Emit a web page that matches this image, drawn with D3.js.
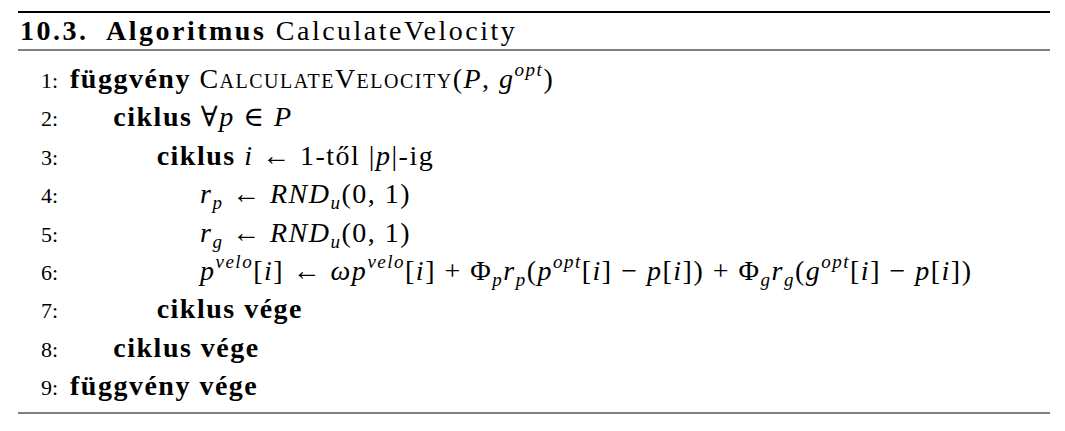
<!DOCTYPE html>
<html><head><meta charset="utf-8">
<script src="https://cdn.jsdelivr.net/npm/d3@7"></script>
<style>body{margin:0;background:#fff}</style>
</head><body>
<svg id="c" width="1065" height="431"></svg>
<script>
// algorithm title and listing
const title = [["10.3.  Algoritmus", "b"], [" CalculateVelocity", "r"]];
const indents = [0, 1, 2, 3, 3, 3, 2, 1, 0];
const lines = [
  [["függvény", "b"], [" ", "r"], ["CalculateVelocity", "sc"], ["(", "r"], ["P", "i"], [", ", "r"], ["g", "i"], ["opt", "sup"], [")", "r"]],
  [["ciklus", "b"], [" ∀", "r"], ["p", "i"], [" ∈ ", "r"], ["P", "i"]],
  [["ciklus", "b"], [" ", "r"], ["i", "i"], [" ← 1-től |", "r"], ["p", "i"], ["|-ig", "r"]],
  [["r", "i"], ["p", "sub"], [" ← ", "r"], ["RND", "i"], ["u", "sub"], ["(0, 1)", "r"]],
  [["r", "i"], ["g", "sub"], [" ← ", "r"], ["RND", "i"], ["u", "sub"], ["(0, 1)", "r"]],
  [["p", "i"], ["velo", "sup"], ["[", "r"], ["i", "i"], ["] ← ", "r"], ["ωp", "i"], ["velo", "sup"], ["[", "r"], ["i", "i"], ["] + Φ", "r"], ["p", "sub"], ["r", "i"], ["p", "sub"],
   ["(", "r"], ["p", "i"], ["opt", "sup"], ["[", "r"], ["i", "i"], ["] − ", "r"], ["p", "i"], ["[", "r"], ["i", "i"], ["]) + Φ", "r"], ["g", "sub"], ["r", "i"], ["g", "sub"],
   ["(", "r"], ["g", "i"], ["opt", "sup"], ["[", "r"], ["i", "i"], ["] − ", "r"], ["p", "i"], ["[", "r"], ["i", "i"], ["])", "r"]],
  [["ciklus vége", "b"]],
  [["ciklus vége", "b"]],
  [["függvény vége", "b"]]
];

const svg = d3.select("#c");
const font = "'Liberation Serif', 'DejaVu Serif', serif";
const y = d3.scaleLinear().domain([1, 9]).range([88, 395]);
const x = d3.scaleLinear().domain([0, 3]).range([70, 200]);

// rules
svg.append("line").attr("x1", 18).attr("x2", 1050).attr("y1", 12).attr("y2", 12).attr("stroke", "#000").attr("stroke-width", 2);
svg.append("line").attr("x1", 18).attr("x2", 1050).attr("y1", 50).attr("y2", 50).attr("stroke", "#000").attr("stroke-width", 1);
svg.append("line").attr("x1", 18).attr("x2", 1050).attr("y1", 413).attr("y2", 413).attr("stroke", "#000").attr("stroke-width", 1);

function writeSegs(t, segs) {
  let shift = 0;
  segs.forEach(([s, k]) => {
    const ts = t.append("tspan").text(s);
    let target = 0;
    if (k === "b") ts.attr("font-weight", "bold");
    if (k === "i") ts.attr("font-style", "italic");
    if (k === "sc") ts.attr("font-variant", "small-caps");
    if (k === "sup") { ts.attr("font-style", "italic").attr("font-size", 19); target = -12; }
    if (k === "sub") { ts.attr("font-style", "italic").attr("font-size", 19); target = 6; }
    if (target !== shift) { ts.attr("dy", target - shift); shift = target; }
  });
}

const head = svg.append("text").attr("x", 20).attr("y", 40).attr("font-family", font)
  .attr("font-size", 28).attr("letter-spacing", 2.5).style("white-space", "pre");
writeSegs(head, title);

lines.forEach((segs, i) => {
  svg.append("text").attr("x", 58).attr("y", y(i + 1)).attr("text-anchor", "end")
    .attr("font-family", font).attr("font-size", 22).text((i + 1) + ":");
  const t = svg.append("text").attr("x", x(indents[i])).attr("y", y(i + 1))
    .attr("font-family", font).attr("font-size", 28).attr("letter-spacing", 1.5)
    .style("white-space", "pre");
  writeSegs(t, segs);
});
</script>
</body></html>
